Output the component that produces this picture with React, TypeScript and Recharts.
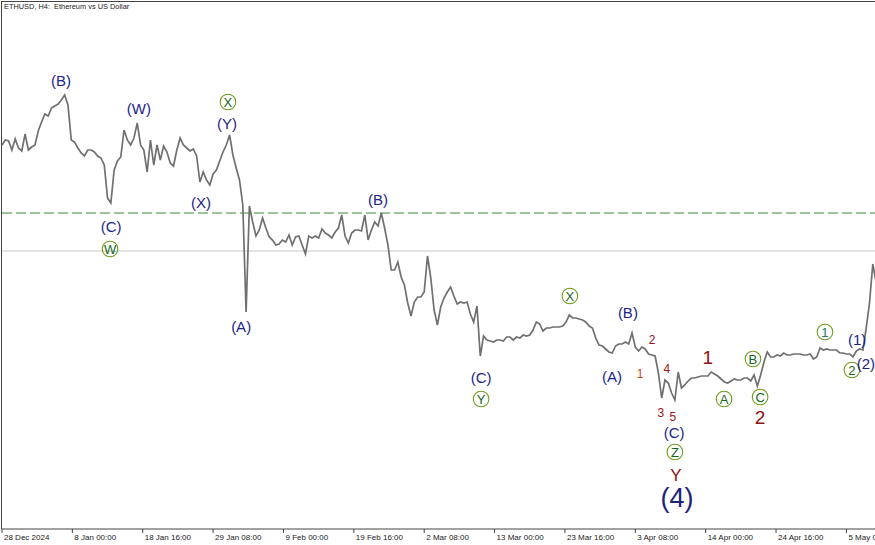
import React from "react";
import { LineChart, Line, XAxis, YAxis, ReferenceLine, ReferenceDot } from "recharts";

const titleText = "ETHUSD, H4:  Ethereum vs US Dollar";

// hours since 28 Dec 2024 08:00
const tickHours = [0, 256, 512, 768, 1024, 1280, 1536, 1792, 2048, 2304, 2560, 2816, 3072];
const tickLabels = [
  "28 Dec 2024", "8 Jan 00:00", "18 Jan 16:00", "29 Jan 08:00", "9 Feb 00:00",
  "19 Feb 16:00", "2 Mar 08:00", "13 Mar 00:00", "23 Mar 16:00", "3 Apr 08:00",
  "14 Apr 00:00", "24 Apr 16:00", "5 May 08:00",
];

// 12-hour sampled prices (USD)
const prices12h = [
  3369, 3409, 3401, 3329, 3417, 3345, 3321, 3457, 3329, 3353,
  3369, 3481, 3553, 3617, 3601, 3665, 3681, 3697, 3729, 3769,
  3689, 3409, 3393, 3345, 3305, 3281, 3329, 3329, 3313, 3281,
  3265, 3209, 2945, 2905, 3169, 3241, 3273, 3489, 3409, 3369,
  3425, 3545, 3369, 3329, 3153, 3409, 3209, 3369, 3249, 3361,
  3313, 3225, 3201, 3329, 3425, 3369, 3345, 3321, 3337, 3281,
  3073, 3153, 3089, 3049, 3137, 3169, 3241, 3313, 3369, 3449,
  3289, 3185, 3089, 2889, 2033, 2881, 2753, 2641, 2689, 2785,
  2705, 2633, 2609, 2569, 2577, 2609, 2593, 2649, 2569, 2633,
  2641, 2569, 2497, 2641, 2625, 2641, 2625, 2697, 2665, 2649,
  2625, 2673, 2705, 2809, 2641, 2585, 2665, 2689, 2689, 2681,
  2809, 2609, 2689, 2753, 2721, 2825, 2705, 2569, 2369, 2369,
  2433, 2313, 2249, 2105, 2001, 2113, 2153, 2153, 2193, 2481,
  2305, 2049, 1929, 2073, 2145, 2193, 2233, 2161, 2097, 2113,
  2105, 2113, 2017, 1953, 2081, 1681, 1841, 1809, 1801, 1793,
  1809, 1809, 1801, 1833, 1833, 1809, 1833, 1825, 1849, 1841,
  1849, 1889, 1953, 1937, 1881, 1905, 1905, 1913, 1913, 1913,
  1921, 1953, 2009, 1985, 1985, 1977, 1969, 1953, 1921, 1905,
  1825, 1769, 1761, 1737, 1713, 1705, 1761, 1777, 1777, 1793,
  1777, 1865, 1753, 1721, 1753, 1737, 1697, 1689, 1681, 1545,
  1345, 1489, 1465, 1385, 1329, 1553, 1425, 1449, 1481, 1505,
  1505, 1513, 1521, 1521, 1521, 1553, 1537, 1521, 1497, 1473,
  1465, 1481, 1497, 1489, 1489, 1505, 1505, 1481, 1529, 1441,
  1529, 1633, 1713, 1673, 1673, 1689, 1681, 1705, 1689, 1689,
  1697, 1697, 1697, 1689, 1689, 1697, 1657, 1673, 1745, 1729,
  1737, 1729, 1729, 1729, 1705, 1705, 1697, 1697, 1673, 1721,
  1737, 1729, 1905, 2105, 2417, 2273,
];

const dashedLevel = 2825;
const greyLevel = 2521;

// Elliott wave marks
const markText = [
  "(B)", "(W)", "X", "(Y)", "(X)", "(C)", "W", "(A)", "(B)", "X",
  "(C)", "Y", "(B)", "(A)", "2", "1", "4", "3", "5", "1",
  "B", "C", "A", "2", "(C)", "Z", "Y", "(4)", "1", "(1)",
  "2", "(2)",
];
const markHour = [
  215, 498, 822, 819, 724, 397, 393, 870, 1368, 2066,
  1743, 1743, 2277, 2219, 2365, 2321, 2419, 2397, 2441, 2568,
  2732, 2758, 2627, 2758, 2445, 2448, 2452, 2456, 2994, 3111,
  3092, 3143,
];
const markPrice = [
  3889, 3665, 3713, 3545, 2913, 2721, 2537, 1921, 2937, 2161,
  1513, 1337, 2033, 1521, 1809, 1537, 1577, 1225, 1193, 1673,
  1657, 1353, 1337, 1193, 1073, 913, 729, 545, 1873, 1817,
  1569, 1625,
];
const markDegree = [
  "intermediate", "intermediate", "minor", "intermediate", "intermediate", "intermediate", "minor", "intermediate", "intermediate", "minor",
  "intermediate", "minor", "intermediate", "intermediate", "subminuette", "subminuetteAlt", "subminuette", "subminuette", "subminuette", "minute",
  "minor", "minor", "minor", "minute", "intermediate", "minor", "primaryY", "primary", "minorTeal", "intermediate",
  "minor", "intermediate",
];

const FONT = "'Liberation Sans', Arial, sans-serif";

const degreeStyle: Record<string, { size: number; color: string; circle?: boolean }> = {
  intermediate: { size: 15, color: "#1c2488" },
  minor: { size: 13, color: "#17661a", circle: true },
  minorTeal: { size: 13, color: "#157a5a", circle: true },
  subminuette: { size: 12, color: "#9a1414" },
  subminuetteAlt: { size: 12, color: "#c44a1a" },
  minute: { size: 19, color: "#8b1212" },
  primaryY: { size: 17, color: "#8b1212" },
  primary: { size: 27, color: "#1c2478" },
};

const data = prices12h.map((p, i) => ({ hour: i * 12, price: p }));

const AxisTick = (props: any) => {
  const { x, index } = props;
  const label = tickLabels[index] ?? "";
  return (
    <text x={x + 2} y={540} fontSize={8} fontFamily={FONT} fill="#222" textAnchor="start">
      {label}
    </text>
  );
};

const makeShape = (text: string, degree: string) => (p: any) => {
  const st = degreeStyle[degree];
  const { cx, cy } = p;
  if (st.circle) {
    return (
      <g>
        <circle cx={cx} cy={cy} r={7.8} fill="none" stroke="#6f9e1e" strokeWidth={1.1} />
        <text x={cx} y={cy + 0.5} textAnchor="middle" dominantBaseline="central" fontSize={st.size} fontFamily={FONT} fill={st.color}>
          {text}
        </text>
      </g>
    );
  }
  return (
    <text x={cx} y={cy} textAnchor="middle" dominantBaseline="central" fontSize={st.size} fontFamily={FONT} fill={st.color}>
      {text}
    </text>
  );
};

export default function App() {
  return (
    <div style={{ position: "absolute", left: 0, top: 0, width: 875, height: 545, background: "#fff", overflow: "hidden" }}>
      <LineChart width={875} height={545} data={data} margin={{ top: 2, right: 0, bottom: 0, left: 2 }}>
        <XAxis
          dataKey="hour"
          type="number"
          domain={[0, 3176]}
          allowDataOverflow
          ticks={tickHours}
          interval={0}
          tick={<AxisTick />}
          tickSize={4}
          tickLine={{ stroke: "#444" }}
          axisLine={{ stroke: "#444" }}
          height={16}
        />
        <YAxis hide type="number" domain={[297, 4513]} allowDataOverflow />
        <ReferenceLine y={dashedLevel} stroke="#3a8a3a" strokeDasharray="10 4" strokeWidth={1} />
        <ReferenceLine y={greyLevel} stroke="#c8c8c8" strokeWidth={1} />
        <Line
          type="linear"
          dataKey="price"
          stroke="#707070"
          strokeWidth={1.7}
          dot={false}
          isAnimationActive={false}
        />
        {markText.map((t, i) => (
          <ReferenceDot
            key={i}
            x={markHour[i]}
            y={markPrice[i]}
            r={0}
            ifOverflow="visible"
            shape={makeShape(t, markDegree[i])}
          />
        ))}
      </LineChart>
      <div style={{ position: "absolute", left: 1, top: 1, width: 874, height: 0, borderTop: "1.5px solid #444" }} />
      <div style={{ position: "absolute", left: 1, top: 1, width: 0, height: 528, borderLeft: "1.5px solid #444" }} />
      <div style={{ position: "absolute", left: 4, top: 2, fontSize: 7.4, fontFamily: FONT, color: "#222", whiteSpace: "pre" }}>
        {titleText}
      </div>
    </div>
  );
}
